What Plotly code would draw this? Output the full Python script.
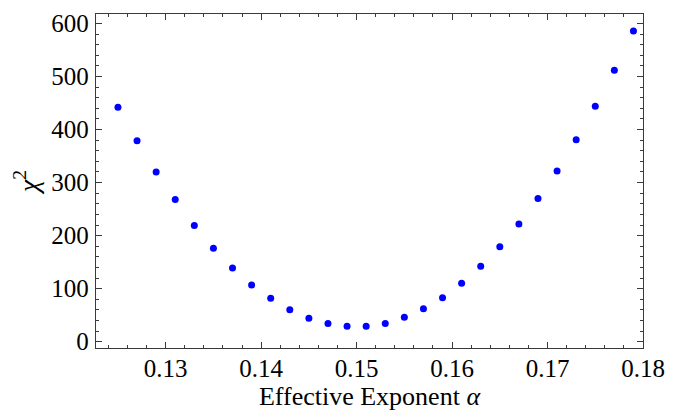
import plotly.graph_objects as go

alpha = [0.125, 0.127, 0.129, 0.131, 0.133, 0.135, 0.137, 0.139, 0.141, 0.143,
         0.145, 0.147, 0.149, 0.151, 0.153, 0.155, 0.157, 0.159, 0.161, 0.163,
         0.165, 0.167, 0.169, 0.171, 0.173, 0.175, 0.177, 0.179]
chi2 = [442, 379, 320, 268, 219, 176, 139, 107, 82, 60,
        44, 34, 29, 29, 34, 46, 62, 83, 110, 142,
        179, 222, 270, 322, 381, 444, 512, 586]

x_ticks = [0.13, 0.14, 0.15, 0.16, 0.17, 0.18]
x_ticklabels = ["0.13", "0.14", "0.15", "0.16", "0.17", "0.18"]
y_ticks = [0, 100, 200, 300, 400, 500, 600]
y_ticklabels = ["0", "100", "200", "300", "400", "500", "600"]

font_family = "Liberation Serif"
frame_color = "#3a3a3a"

fig = go.Figure()
fig.add_trace(go.Scatter(
    x=alpha, y=chi2, mode="markers",
    marker=dict(color="#0000ff", size=7, line=dict(width=0)),
    showlegend=False,
))

axis_common = dict(
    showgrid=False, zeroline=False, showline=True, linecolor=frame_color,
    linewidth=1.3, mirror="allticks", ticks="inside", ticklen=6,
    tickcolor=frame_color, tickwidth=1,
    tickfont=dict(family=font_family, size=25, color="#000000"),
)

fig.update_xaxes(
    range=[0.1227, 0.18], tickmode="array", tickvals=x_ticks,
    ticktext=x_ticklabels,
    minor=dict(ticks="inside", ticklen=3, tickcolor=frame_color,
               tick0=0.12, dtick=0.002),
    title=dict(text="Effective Exponent <i>α</i>",
               font=dict(family=font_family, size=26, color="#000000"),
               standoff=1),
    ticklabelstandoff=-2,
    **axis_common,
)
fig.update_yaxes(
    range=[-12, 618], tickmode="array", tickvals=y_ticks,
    ticktext=y_ticklabels,
    minor=dict(ticks="inside", ticklen=3, tickcolor=frame_color,
               tick0=0, dtick=20),
    title=dict(text="<i>χ</i><sup>2</sup>",
               font=dict(family=font_family, size=28, color="#000000"),
               standoff=4),
    ticklabelstandoff=1,
    **axis_common,
)

fig.update_layout(
    width=684, height=418,
    margin=dict(l=96, r=41, t=10, b=70),
    paper_bgcolor="white", plot_bgcolor="white",
)

fig.write_html("out.html")
